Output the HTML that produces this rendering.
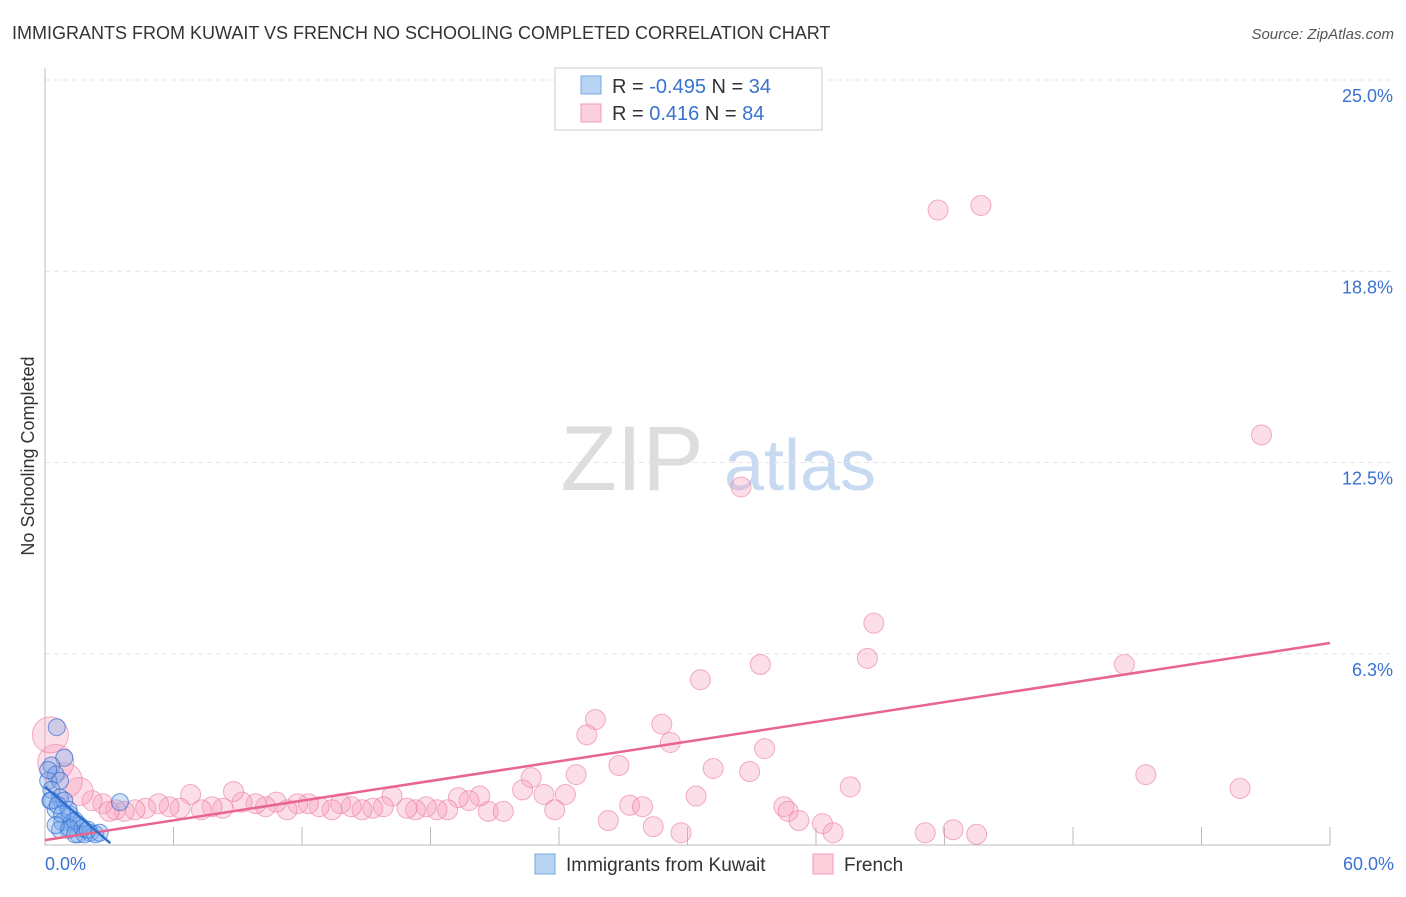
<!DOCTYPE html>
<html><head><meta charset="utf-8"><style>
body{margin:0;background:#fff;font-family:"Liberation Sans",sans-serif;}
svg text{font-family:"Liberation Sans",sans-serif;}
</style></head><body>
<svg id="chart" width="1406" height="892">
<text x="12" y="39" font-size="18" fill="#333">IMMIGRANTS FROM KUWAIT VS FRENCH NO SCHOOLING COMPLETED CORRELATION CHART</text>
<text x="1394" y="39" font-size="15" fill="#555" font-style="italic" text-anchor="end">Source: ZipAtlas.com</text>
<text transform="translate(34,456) rotate(-90)" font-size="18" fill="#333" text-anchor="middle">No Schooling Completed</text>
<g><text x="632" y="490" font-size="92" fill="#ddd" font-family="Liberation Serif" text-anchor="middle">ZIP</text><text x="800" y="490" font-size="72" fill="#c8daf2" text-anchor="middle">atlas</text></g>
<g id="grid"></g><g id="pts"></g><g id="trend"></g>
<g>
<rect x="555" y="68" width="267" height="62" fill="#fff" stroke="#ccc"/>
<rect x="581" y="76" width="20" height="18" fill="#b8d4f5" stroke="#7aa7e0"/>
<text x="612" y="93" font-size="20" fill="#333">R = <tspan fill="#3a72d0">-0.495</tspan>   N = <tspan fill="#3a72d0">34</tspan></text>
<rect x="581" y="104" width="20" height="18" fill="#fbd0dc" stroke="#f19ab4"/>
<text x="612" y="120" font-size="20" fill="#333">R =   <tspan fill="#3a72d0">0.416</tspan>   N = <tspan fill="#3a72d0">84</tspan></text>
</g>
<g>
<rect x="535" y="854" width="20" height="20" fill="#b8d4f5" stroke="#7aa7e0"/>
<text x="566" y="871" font-size="19" fill="#333">Immigrants from Kuwait</text>
<rect x="813" y="854" width="20" height="20" fill="#fbd0dc" stroke="#f19ab4"/>
<text x="844" y="871" font-size="19" fill="#333">French</text>
</g>
</svg>
<script>
const yTicks=[6.25,12.5,18.75,25];
const yTickLabels=["6.3%","12.5%","18.8%","25.0%"];
const xTickLabels=["0.0%","60.0%"];
const pinkX=[41.7,43.7,56.8,32.5,38.7,30.6,38.4,33.4,50.4,25.7,25.3,28.8,29.2,33.6,31.2,32.9,51.4,55.8,37.6,26.8,24.8,22.7,22.3,23.3,24.3,30.4,27.3,27.9,34.5,34.7,35.2,26.3,28.4,29.7,36.3,36.8,41.1,42.4,43.5,23.8,20.7,21.4,20.3,19.8,19.3,18.8,18.3,17.8,17.3,16.9,16.2,15.8,15.3,14.8,14.3,13.8,13.4,12.8,12.3,11.8,11.3,10.8,10.3,9.85,9.2,8.8,8.3,7.8,7.3,6.8,6.3,5.8,5.3,4.7,4.2,3.7,3.3,2.7,2.2,1.6,0.9,0.5,0.25,3.0];
const pinkY=[20.75,20.9,13.4,11.7,7.25,5.4,6.1,5.9,5.9,4.1,3.6,3.95,3.35,3.15,2.5,2.4,2.3,1.85,1.9,2.6,2.3,2.2,1.8,1.65,1.65,1.6,1.3,1.25,1.25,1.1,0.8,0.8,0.6,0.4,0.7,0.4,0.4,0.5,0.35,1.15,1.1,1.1,1.6,1.45,1.55,1.15,1.15,1.25,1.15,1.2,1.6,1.25,1.2,1.15,1.25,1.35,1.15,1.25,1.35,1.35,1.15,1.4,1.25,1.35,1.4,1.75,1.2,1.25,1.15,1.65,1.2,1.25,1.35,1.2,1.15,1.1,1.15,1.35,1.45,1.75,2.1,2.7,3.6,1.1];
const blueX=[0.55,0.9,0.3,0.5,0.15,0.7,0.3,0.7,0.25,0.9,0.5,1.15,0.8,1.25,1.6,1.1,0.7,1.55,2.1,1.4,1.85,2.35,3.5,0.15,0.3,0.6,1.1,1.4,1.75,2.0,0.8,1.15,0.5,2.55];
const blueY=[3.85,2.85,2.6,2.3,2.1,2.1,1.8,1.55,1.45,1.45,1.15,1.0,0.75,0.75,0.65,0.5,0.5,0.35,0.4,0.35,0.35,0.35,1.4,2.45,1.45,1.3,1.15,0.8,0.55,0.5,1.0,0.55,0.65,0.4];
const pinkTrendX=[0,60], pinkTrendY=[0.16,6.6];
const blueTrendX=[0,3.05], blueTrendY=[1.9,0.06];
const NS="http://www.w3.org/2000/svg";
const X=v=>45+v/60*1285, Y=v=>845-v*30.6;
function mk(t,a,p){const e=document.createElementNS(NS,t);for(const k in a)e.setAttribute(k,a[k]);p.appendChild(e);return e;}
const grid=document.getElementById('grid');
yTicks.forEach((t,i)=>{
 const l=mk('line',{x1:45,x2:1394,y1:Y(t),y2:Y(t),stroke:'#e4e4e4','stroke-dasharray':'5,4'},grid);
 
 
 const tx=mk('text',{x:1393,y:Y(t)+22,'font-size':18,fill:'#3a72d0','text-anchor':'end'},grid);
 tx.textContent=yTickLabels[i];
 
 
});
const ax=mk('path',{d:'M45,68V845H1330',stroke:'#bbb',fill:'none'},grid);


for(let i=1;i<=10;i++){const tk=mk('line',{x1:X(i*6),x2:X(i*6),y1:827,y2:845,stroke:'#bbb'},grid);
 
 }
[[45,'start'],[1394,'end']].forEach((p,i)=>{const t=mk('text',{x:p[0],y:870,'font-size':18,fill:'#3a72d0','text-anchor':p[1]},grid);t.textContent=xTickLabels[i];
 
 });
const pts=document.getElementById('pts');
pinkX.forEach((x,i)=>{const r=x<1?18:(x<2?14:10);
 const c=mk('circle',{cx:X(x),cy:Y(pinkY[i]),r:r,fill:'rgba(246,160,188,0.35)',stroke:'rgba(236,120,158,0.6)'},pts);
 
 });
blueX.forEach((x,i)=>{const c=mk('circle',{cx:X(x),cy:Y(blueY[i]),r:8.5,fill:'rgba(120,170,235,0.35)',stroke:'rgba(50,110,210,0.7)'},pts);
 
 });
const tr=document.getElementById('trend');
const pl=mk('line',{x1:X(pinkTrendX[0]),y1:Y(pinkTrendY[0]),x2:X(pinkTrendX[1]),y2:Y(pinkTrendY[1]),stroke:'#e8658f','stroke-width':2.5},tr);


const bl=mk('line',{x1:X(blueTrendX[0]),y1:Y(blueTrendY[0]),x2:X(blueTrendX[1]),y2:Y(blueTrendY[1]),stroke:'#2f6fd0','stroke-width':2.5},tr);


</script>
</body></html>
